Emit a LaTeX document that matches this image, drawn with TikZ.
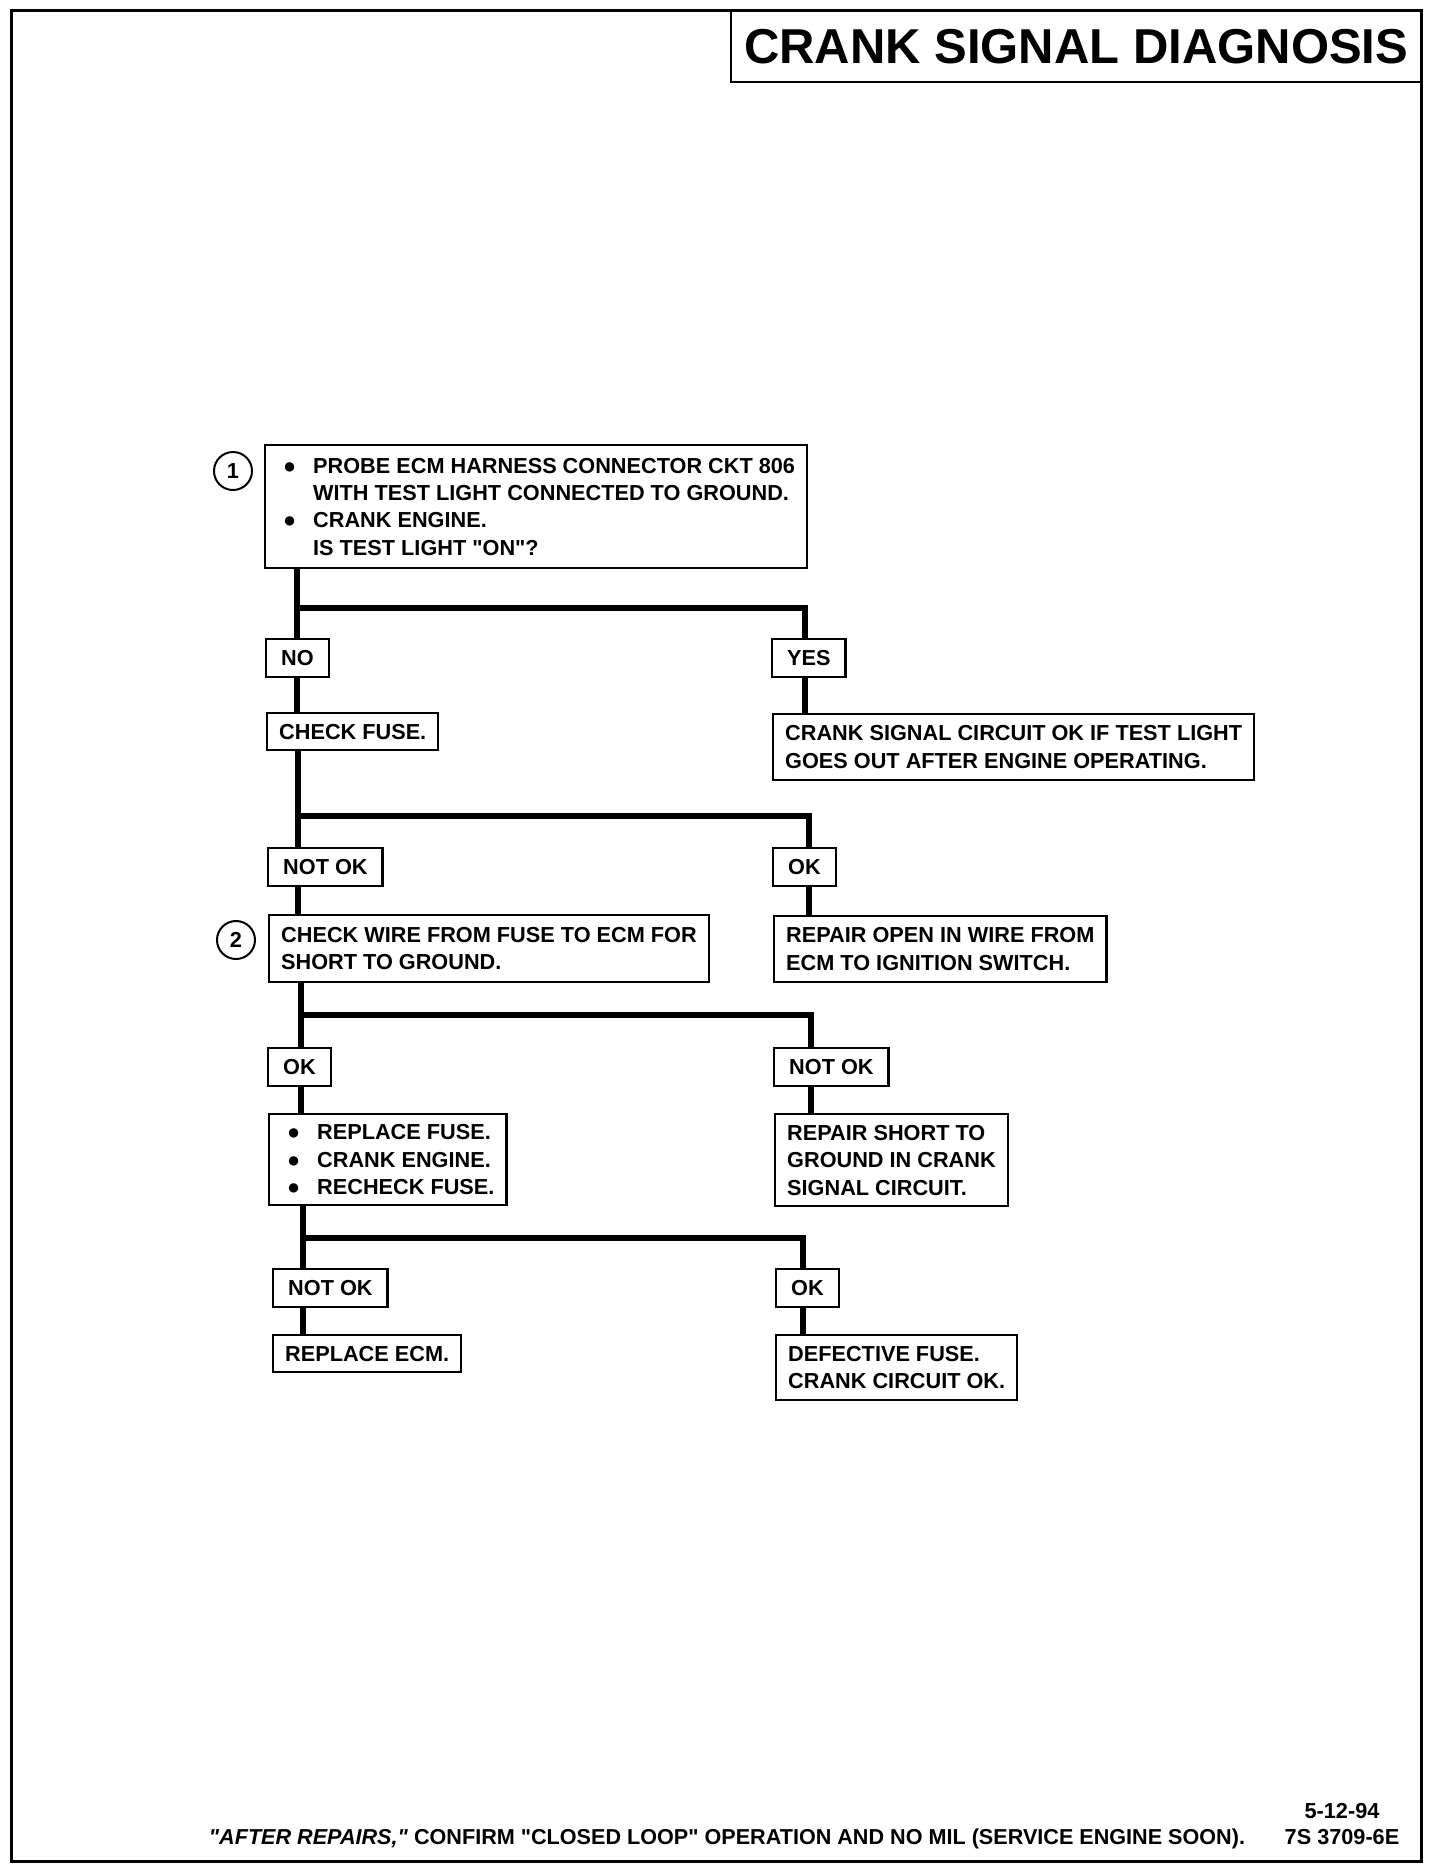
\documentclass[tikz,border=0pt]{standalone}
\usepackage{fontspec}
\setmainfont{Liberation Sans}
\tikzset{
  stepbox/.style={draw, line width=1.2pt, anchor=north west, align=left, inner xsep=6pt, inner ysep=0pt},
  tagbox/.style={draw, line width=1.2pt, anchor=north west, inner xsep=7.5pt, inner ysep=0pt, minimum height=19pt},
  stepnum/.style={draw, circle, line width=1pt, minimum size=19pt, inner sep=0pt},
  link/.style={line width=3pt},
}
\newcommand{\bul}{\makebox[18pt][l]{\hspace{3pt}●}}
\newcommand{\stepind}{\hspace*{18pt}}
\newcommand{\qq}{\textquotedbl}
\begin{document}
\begin{tikzpicture}[x=0.5pt, y=-0.5pt, font=\fontsize{10.85}{13.7}\selectfont\bfseries]
\useasboundingbox (0,0) rectangle (1440,1870);
% frame and title
\draw[line width=1.5pt] (11,10) rectangle (1421,1861);
\node[draw, line width=1.2pt, anchor=north west, minimum width=345pt, minimum height=35.5pt,
  font=\fontsize{24.5}{28}\selectfont\bfseries] (title) at (730,10) {CRANK SIGNAL DIAGNOSIS};

% step 1
\node[stepbox, minimum height=61.5pt] (probe) at (264,444) {\bul PROBE ECM HARNESS CONNECTOR CKT 806\\
  \stepind WITH TEST LIGHT CONNECTED TO GROUND.\\
  \bul CRANK ENGINE.\\
  \stepind IS TEST LIGHT \qq ON\qq?};
\node[stepnum] (n1) at (233,471) {1};
\node[tagbox] (no) at (265,638) {NO};
\node[tagbox] (yes) at (771,638) {YES};
\node[stepbox, minimum height=18.5pt] (fuse) at (266,712) {CHECK FUSE.};
\node[stepbox, minimum height=33pt] (lightout) at (772,713) {CRANK SIGNAL CIRCUIT OK IF TEST LIGHT\\GOES OUT AFTER ENGINE OPERATING.};
\coordinate (j1) at (297,608);
\coordinate (j1r) at (805,608);
\draw[link] (probe.south -| j1) -- (no.north -| j1) (no.south -| j1) -- (fuse.north -| j1);
\draw[link] (j1) -- (j1r) -- (yes.north -| j1r) (yes.south -| j1r) -- (lightout.north -| j1r);

% step 2
\node[tagbox] (notok1) at (267,847) {NOT OK};
\node[tagbox] (ok1) at (772,847) {OK};
\node[stepbox, minimum height=33.5pt] (short) at (268,914) {CHECK WIRE FROM FUSE TO ECM FOR\\SHORT TO GROUND.};
\node[stepnum] (n2) at (236,940) {2};
\node[stepbox, minimum height=33pt] (openwire) at (773,915) {REPAIR OPEN IN WIRE FROM\\ECM TO IGNITION SWITCH.};
\coordinate (j2) at (298,816);
\coordinate (j2r) at (809,816);
\draw[link] (fuse.south -| j2) -- (notok1.north -| j2) (notok1.south -| j2) -- (short.north -| j2);
\draw[link] (j2) -- (j2r) -- (ok1.north -| j2r) (ok1.south -| j2r) -- (openwire.north -| j2r);

% step 3
\node[tagbox] (ok2) at (267,1047) {OK};
\node[tagbox] (notok2) at (773,1047) {NOT OK};
\node[stepbox, minimum height=45.5pt] (replfuse) at (268,1113) {\bul REPLACE FUSE.\\\bul CRANK ENGINE.\\\bul RECHECK FUSE.};
\node[stepbox, minimum height=46pt] (shortrep) at (774,1113) {REPAIR SHORT TO\\GROUND IN CRANK\\SIGNAL CIRCUIT.};
\coordinate (j3) at (301,1015);
\coordinate (j3r) at (811,1015);
\draw[link] (short.south -| j3) -- (ok2.north -| j3) (ok2.south -| j3) -- (replfuse.north -| j3);
\draw[link] (j3) -- (j3r) -- (notok2.north -| j3r) (notok2.south -| j3r) -- (shortrep.north -| j3r);

% step 4
\node[tagbox] (notok3) at (272,1268) {NOT OK};
\node[tagbox] (ok3) at (775,1268) {OK};
\node[stepbox, minimum height=18.5pt] (replecm) at (272,1334) {REPLACE ECM.};
\node[stepbox, minimum height=32.5pt] (badfuse) at (775,1334) {DEFECTIVE FUSE.\\CRANK CIRCUIT OK.};
\coordinate (j4) at (303,1238);
\coordinate (j4r) at (803,1238);
\draw[link] (replfuse.south -| j4) -- (notok3.north -| j4) (notok3.south -| j4) -- (replecm.north -| j4);
\draw[link] (j4) -- (j4r) -- (ok3.north -| j4r) (ok3.south -| j4r) -- (badfuse.north -| j4r);

% footer
\node[anchor=base, font=\fontsize{10.8}{13}\selectfont\bfseries] (note) at (727,1844)
  {\textit{\qq AFTER REPAIRS,\qq} CONFIRM \qq CLOSED LOOP\qq{} OPERATION AND NO MIL (SERVICE ENGINE SOON).};
\node[anchor=base] (date) at (1342,1818) {5-12-94};
\node[anchor=base] (figno) at (1342,1844) {7S 3709-6E};
\end{tikzpicture}
\end{document}
